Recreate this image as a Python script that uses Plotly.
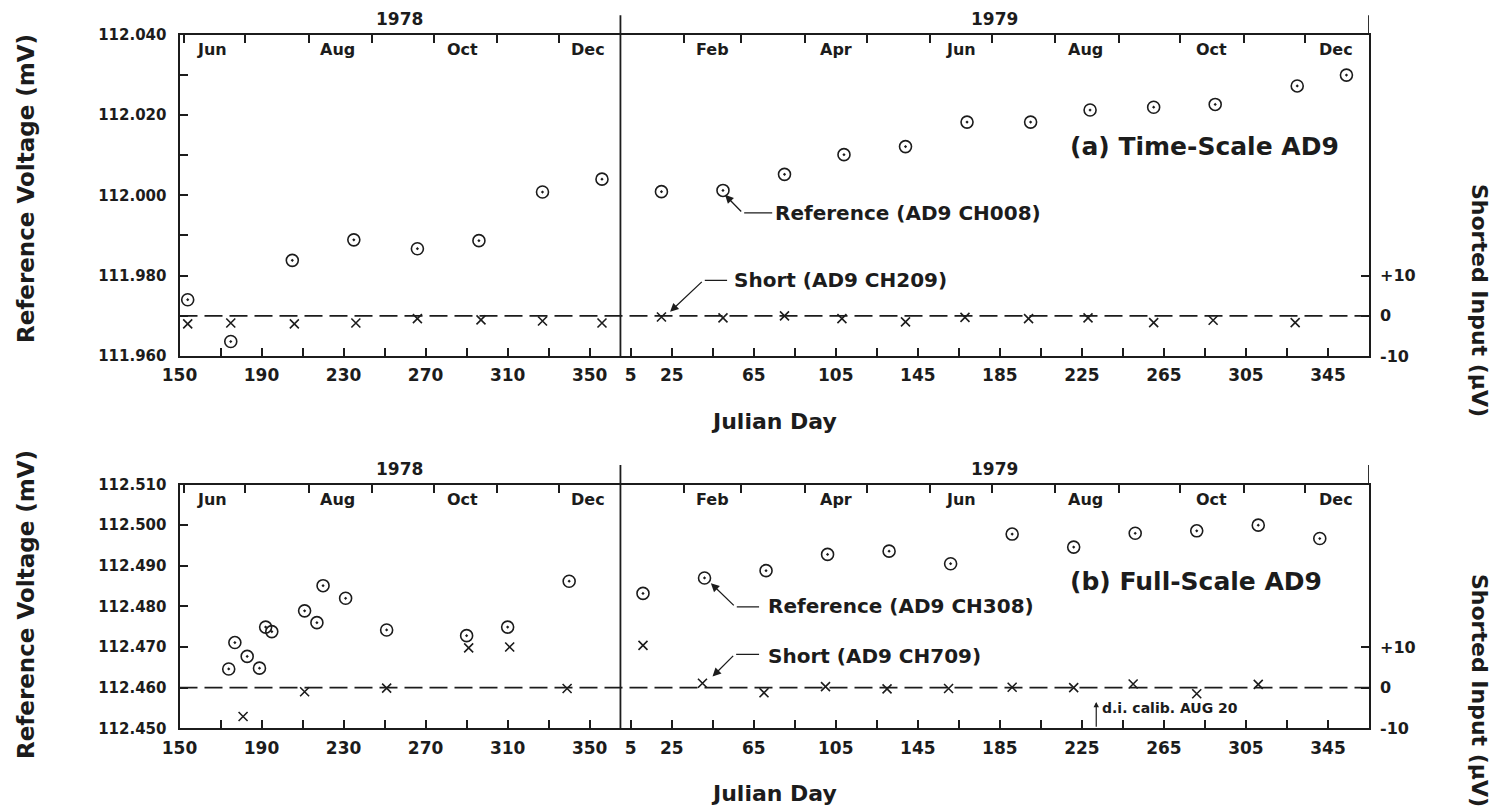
import plotly.graph_objects as go

# ---------------------------------------------------------------- data
# Day numbers are Julian days within each year; 1979 points sit after 1978
# on one continuous day axis (offset by the length of 1978).
YEAR_OFFSET = 365
AXIS_START, AXIS_END = 150, 730

# (a) Time-Scale AD9
ts_ref_day_1978 = [154, 175, 205, 235, 266, 296, 327, 356]
ts_ref_mv_1978 = [111.9740, 111.9636, 111.9838, 111.9889, 111.9867, 111.9887, 112.0008, 112.0040]
ts_short_day_1978 = [154, 175, 206, 236, 266, 297, 327, 356]
ts_short_uv_1978 = [-2.0, -1.8, -2.0, -1.8, -0.7, -1.0, -1.3, -1.8]

ts_ref_day_1979 = [20, 50, 80, 109, 139, 169, 200, 229, 260, 290, 330, 354]
ts_ref_mv_1979 = [112.0009, 112.0012, 112.0052, 112.0101, 112.0121, 112.0182,
                  112.0182, 112.0212, 112.0219, 112.0226, 112.0272, 112.0299]
ts_short_day_1979 = [20, 50, 80, 108, 139, 168, 199, 228, 260, 289, 329]
ts_short_uv_1979 = [-0.3, -0.5, 0.0, -0.7, -1.5, -0.4, -0.7, -0.5, -1.7, -1.1, -1.7]

# (b) Full-Scale AD9
fs_ref_day_1978 = [174, 177, 183, 189, 192, 195, 211, 217, 220, 231, 251, 290, 310, 340]
fs_ref_mv_1978 = [112.4646, 112.4711, 112.4677, 112.4648, 112.4749, 112.4738, 112.4789,
                  112.4760, 112.4851, 112.4820, 112.4742, 112.4728, 112.4749, 112.4862]
fs_short_day_1978 = [181, 211, 251, 291, 311, 339]
fs_short_uv_1978 = [-7.1, -1.0, -0.1, 9.8, 10.0, -0.2]

fs_ref_day_1979 = [11, 41, 71, 101, 131, 161, 191, 221, 251, 281, 311, 341]
fs_ref_mv_1979 = [112.4832, 112.4870, 112.4888, 112.4928, 112.4936, 112.4905,
                  112.4978, 112.4946, 112.4980, 112.4986, 112.5000, 112.4967]
fs_short_day_1979 = [11, 40, 70, 100, 130, 160, 191, 221, 250, 281, 311]
fs_short_uv_1979 = [10.4, 1.1, -1.25, 0.25, -0.3, -0.2, 0.1, 0.0, 0.9, -1.5, 0.8]

# axis ticks
day_ticks_1978 = [150, 170, 190, 210, 230, 250, 270, 290, 310, 330, 350]
day_labels_1978 = [150, 190, 230, 270, 310, 350]
day_ticks_1979 = [5, 25, 45, 65, 85, 105, 125, 145, 165, 185, 205, 225, 245, 265, 285, 305, 325, 345]
day_labels_1979 = [5, 25, 65, 105, 145, 185, 225, 265, 305, 345]

month_starts_1978 = [152, 182, 213, 244, 274, 305, 335]
month_starts_1979 = [31, 59, 90, 120, 151, 181, 212, 243, 273, 304, 334]
month_names_1978 = ["Jun", "Aug", "Oct", "Dec"]
month_mid_1978 = [166, 227, 288, 349]
month_names_1979 = ["Feb", "Apr", "Jun", "Aug", "Oct", "Dec"]
month_mid_1979 = [45, 105, 166, 227, 288, 349]
years = ["1978", "1979"]

ts_mv_range = [111.960, 112.040]
ts_mv_ticks = [111.960, 111.970, 111.980, 111.990, 112.000, 112.010, 112.020, 112.030, 112.040]
ts_mv_labels = [111.960, 111.980, 112.000, 112.020, 112.040]
fs_mv_range = [112.450, 112.510]
fs_mv_ticks = [112.450, 112.460, 112.470, 112.480, 112.490, 112.500, 112.510]
fs_mv_labels = fs_mv_ticks

uv_ticks = [-10, 0, 10]
uv_labels = ["-10", "0", "+10"]
# shorted-input scale: 10 µV per 0.010 mV, 0 µV at the dashed line
ts_uv_range = [-10, 70]
fs_uv_range = [-10, 50]


def shift(days, year):
    off = YEAR_OFFSET if year == 1979 else 0
    return [d + off for d in days]


def tick_text(vals, labelled, fmt):
    return [fmt(v) if v in labelled else "" for v in vals]


INK = "#1c1c1c"
FONT = "DejaVu Sans"
W, H = 1499, 811

x_dom = [179.5 / W, 1369 / W]
top_dom = [1 - 356 / H, 1 - 34.5 / H]
bot_dom = [1 - 728.3 / H, 1 - 484.5 / H]

fig = go.Figure()

ref_marker = dict(symbol="circle-open-dot", size=12, color=INK, line=dict(width=1.6, color=INK))
short_marker = dict(symbol="x-thin-open", size=9, color=INK, line=dict(width=1.6, color=INK))
dash_line = dict(color=INK, width=1.8, dash="18px,7px")


def add_panel(xa, ya_mv, ya_uv, xm, ref78, mv78, ref79, mv79, s78, u78, s79, u79, month_ticks):
    fig.add_trace(go.Scatter(x=[AXIS_START, AXIS_END], y=[0, 0], mode="lines", line=dash_line,
                             xaxis=xa, yaxis=ya_uv, hoverinfo="skip", showlegend=False))
    fig.add_trace(go.Scatter(x=shift(ref78, 1978) + shift(ref79, 1979), y=mv78 + mv79,
                             mode="markers", marker=ref_marker, xaxis=xa, yaxis=ya_mv,
                             showlegend=False))
    fig.add_trace(go.Scatter(x=shift(s78, 1978) + shift(s79, 1979), y=u78 + u79,
                             mode="markers", marker=short_marker, xaxis=xa, yaxis=ya_uv,
                             showlegend=False))
    # carrier for the month tick axis along the top edge
    fig.add_trace(go.Scatter(x=month_ticks, y=[None] * len(month_ticks), mode="markers",
                             marker=dict(opacity=0), xaxis=xm, yaxis=ya_mv,
                             hoverinfo="skip", showlegend=False))


month_ticks_all = shift(month_starts_1978, 1978) + shift(month_starts_1979, 1979)

add_panel("x", "y", "y2", "x3",
          ts_ref_day_1978, ts_ref_mv_1978, ts_ref_day_1979, ts_ref_mv_1979,
          ts_short_day_1978, ts_short_uv_1978, ts_short_day_1979, ts_short_uv_1979,
          month_ticks_all)
add_panel("x2", "y3", "y4", "x4",
          fs_ref_day_1978, fs_ref_mv_1978, fs_ref_day_1979, fs_ref_mv_1979,
          fs_short_day_1978, fs_short_uv_1978, fs_short_day_1979, fs_short_uv_1979,
          month_ticks_all)

day_tickvals = shift(day_ticks_1978, 1978) + shift(day_ticks_1979, 1979)
day_ticktext = (tick_text(day_ticks_1978, day_labels_1978, str)
                + tick_text(day_ticks_1979, day_labels_1979, str))

frame = dict(showline=True, linewidth=2, linecolor=INK, mirror=True, automargin=False,
             showgrid=False, zeroline=False, ticks="inside", tickcolor=INK,
             tickwidth=1.5)

day_axis = dict(frame, range=[AXIS_START, AXIS_END], domain=x_dom, tickmode="array",
                tickvals=day_tickvals, ticktext=day_ticktext, ticklen=8,
                tickfont=dict(size=17), ticklabelstandoff=3)
month_axis = dict(range=[AXIS_START, AXIS_END], side="top", tickmode="array",
                  tickvals=month_ticks_all, ticks="inside", ticklen=8, tickwidth=1.5,
                  tickcolor=INK, showticklabels=False, showgrid=False, zeroline=False,
                  showline=False, automargin=False)
mv_axis = dict(frame, tickmode="array", ticklen=8, tickfont=dict(size=15),
               ticklabelstandoff=8)
uv_axis = dict(side="right", tickmode="array", tickvals=uv_ticks, ticktext=uv_labels,
               ticks="inside", ticklen=8, tickwidth=1.5, tickcolor=INK,
               tickfont=dict(size=16), ticklabelstandoff=10, automargin=False,
               showgrid=False, zeroline=False, showline=False)

fig.update_layout(
    width=W, height=H,
    margin=dict(l=0, r=0, t=0, b=0, autoexpand=False),
    paper_bgcolor="white", plot_bgcolor="white",
    font=dict(family=FONT, color=INK, weight="bold"),
    xaxis=dict(day_axis, anchor="y"),
    xaxis2=dict(day_axis, anchor="y3"),
    xaxis3=dict(month_axis, overlaying="x", anchor="y"),
    xaxis4=dict(month_axis, overlaying="x2", anchor="y3"),
    yaxis=dict(mv_axis, anchor="x", domain=top_dom, range=ts_mv_range,
               tickvals=ts_mv_ticks,
               ticktext=tick_text(ts_mv_ticks, ts_mv_labels, lambda v: f"{v:.3f}")),
    yaxis2=dict(uv_axis, anchor="x", overlaying="y", range=ts_uv_range),
    yaxis3=dict(mv_axis, anchor="x2", domain=bot_dom, range=fs_mv_range,
                tickvals=fs_mv_ticks,
                ticktext=tick_text(fs_mv_ticks, fs_mv_labels, lambda v: f"{v:.3f}")),
    yaxis4=dict(uv_axis, anchor="x2", overlaying="y3", range=fs_uv_range),
)

# year divider and upward extensions of the frame
for xa, ya, ext in (("x", "y", 1.06), ("x2", "y3", 1.08)):
    fig.add_shape(type="line", xref=xa, yref=f"{ya} domain", x0=YEAR_OFFSET, x1=YEAR_OFFSET,
                  y0=0, y1=ext, line=dict(color=INK, width=1.8))
    fig.add_shape(type="line", xref=xa, yref=f"{ya} domain", x0=AXIS_END, x1=AXIS_END,
                  y0=1, y1=ext, line=dict(color=INK, width=1.8))

ann = []
# year headings and month names
for xa, ya in (("x", "y"), ("x2", "y3")):
    for yr, mid in zip(years, [(AXIS_START + YEAR_OFFSET) / 2, (YEAR_OFFSET + AXIS_END) / 2]):
        ann.append(dict(text=yr, xref=xa, yref=f"{ya} domain", x=mid, y=1, yanchor="bottom",
                        yshift=4, showarrow=False, font=dict(size=17)))
    for names, mids, yr in ((month_names_1978, month_mid_1978, 1978),
                            (month_names_1979, month_mid_1979, 1979)):
        for nm, xv in zip(names, shift(mids, yr)):
            ann.append(dict(text=nm, xref=xa, yref=f"{ya} domain", x=xv, y=1, yanchor="top",
                            yshift=-3, showarrow=False, font=dict(size=16)))

# panel titles
ann.append(dict(text="(a) Time-Scale AD9", xref="x", yref="y", x=583, y=112.0121,
                xanchor="left", showarrow=False, font=dict(size=25)))
ann.append(dict(text="(b) Full-Scale AD9", xref="x2", yref="y3", x=583, y=112.4861,
                xanchor="left", showarrow=False, font=dict(size=25)))


def leader(xa, ya, text, head, elbow, end, text_at, size=20):
    """Labelled leader: arrow from the elbow to the point, straight run to the text."""
    ann.append(dict(text="", xref=xa, yref=ya, axref=xa, ayref=ya,
                    x=head[0], y=head[1], ax=elbow[0], ay=elbow[1],
                    showarrow=True, arrowhead=2, arrowsize=1.3, arrowwidth=1.3, arrowcolor=INK))
    ann.append(dict(text="", xref=xa, yref=ya, axref=xa, ayref=ya,
                    x=end[0], y=end[1], ax=elbow[0], ay=elbow[1],
                    showarrow=True, arrowhead=0, arrowwidth=1.3, arrowcolor=INK))
    ann.append(dict(text=text, xref=xa, yref=ya, x=text_at[0], y=text_at[1],
                    xanchor="left", showarrow=False, font=dict(size=size)))


leader("x", "y", "Reference (AD9 CH008)",
       (YEAR_OFFSET + 51, 112.0001), (YEAR_OFFSET + 59.6, 111.9956),
       (YEAR_OFFSET + 74, 111.9956), (YEAR_OFFSET + 74.5, 111.9956))
leader("x", "y2", "Short (AD9 CH209)",
       (YEAR_OFFSET + 24.2, 1.0), (YEAR_OFFSET + 40.4, 8.8),
       (YEAR_OFFSET + 52, 8.8), (YEAR_OFFSET + 54.4, 9.0))
leader("x2", "y3", "Reference (AD9 CH308)",
       (YEAR_OFFSET + 44.1, 112.4857), (YEAR_OFFSET + 56, 112.4799),
       (YEAR_OFFSET + 67.6, 112.4799), (YEAR_OFFSET + 71, 112.4801))
leader("x2", "y4", "Short (AD9 CH709)",
       (YEAR_OFFSET + 44.9, 2.75), (YEAR_OFFSET + 55.7, 8.2),
       (YEAR_OFFSET + 67.6, 8.2), (YEAR_OFFSET + 71, 7.8))

# calibration marker
calib_day = 232
ann.append(dict(text="", xref="x2", yref="y4", axref="x2", ayref="y4",
                x=YEAR_OFFSET + calib_day, y=-3.5, ax=YEAR_OFFSET + calib_day, ay=-10,
                showarrow=True, arrowhead=2, arrowsize=0.9, arrowwidth=1.2, arrowcolor=INK))
ann.append(dict(text="d.i. calib. AUG 20", xref="x2", yref="y4", x=YEAR_OFFSET + calib_day + 2,
                y=-5, xanchor="left", showarrow=False, font=dict(size=14)))

# axis titles
for yc in (1 - 189 / H, 1 - 605 / H):
    ann.append(dict(text="Reference Voltage (mV)", xref="paper", yref="paper", x=26 / W, y=yc,
                    xanchor="center", yanchor="middle",
                    textangle=-90, showarrow=False, font=dict(size=23)))
for yc in (1 - 300 / H, 1 - 690 / H):
    ann.append(dict(text="Shorted Input (µV)", xref="paper", yref="paper", x=1480 / W, y=yc,
                    xanchor="center", yanchor="middle",
                    textangle=90, showarrow=False, font=dict(size=22)))
for xa, yc in (("x", 1 - 421.7 / H), ("x2", 1 - 793 / H)):
    ann.append(dict(text="Julian Day", xref=f"{xa} domain", yref="paper", x=0.5, y=yc,
                    xanchor="center", yanchor="middle", showarrow=False, font=dict(size=22)))

fig.update_layout(annotations=ann)
fig.write_html("out.html")
